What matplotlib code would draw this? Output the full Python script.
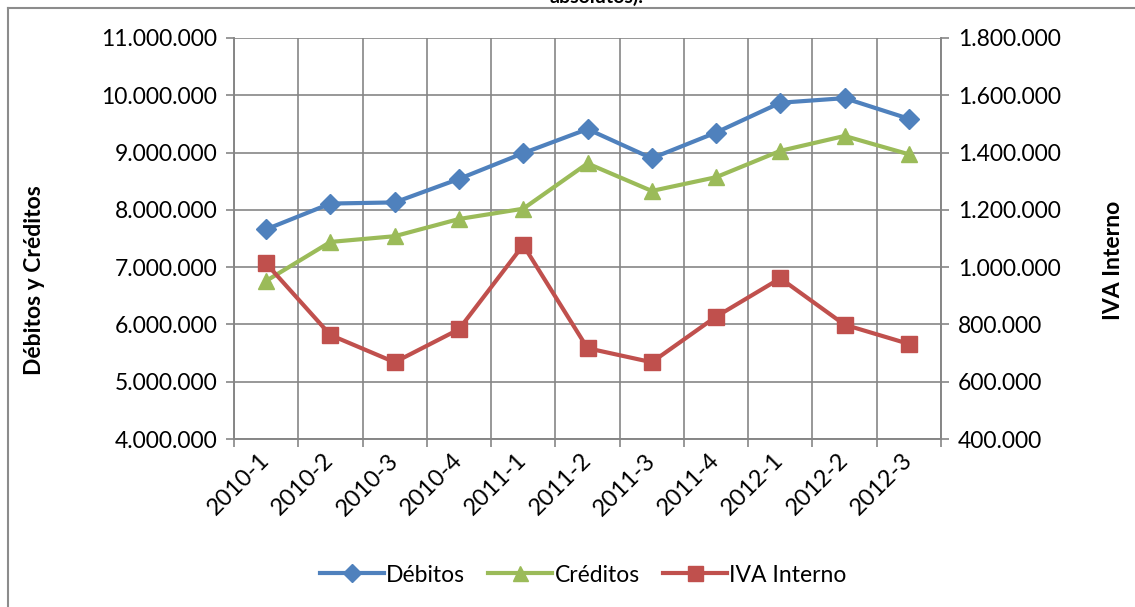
import matplotlib
matplotlib.use("Agg")
import matplotlib.pyplot as plt
from matplotlib.lines import Line2D
from matplotlib.ticker import FuncFormatter, FixedLocator

plt.rcParams['font.family'] = ['Lato', 'DejaVu Sans']

categories = ["2010-1", "2010-2", "2010-3", "2010-4", "2011-1", "2011-2",
              "2011-3", "2011-4", "2012-1", "2012-2", "2012-3"]
debitos = [7660000, 8110000, 8130000, 8540000, 8990000, 9410000,
           8900000, 9350000, 9870000, 9950000, 9590000]
creditos = [6760000, 7440000, 7540000, 7840000, 8020000, 8810000,
            8330000, 8570000, 9030000, 9290000, 8970000]
iva_interno = [1013000, 763000, 668000, 783000, 1077000, 717000,
               668000, 827000, 961000, 799000, 732000]
left_ticks = [4000000, 5000000, 6000000, 7000000, 8000000, 9000000, 10000000, 11000000]
right_ticks = [400000, 600000, 800000, 1000000, 1200000, 1400000, 1600000, 1800000]

C_DEB = "#4F81BD"
C_CRE = "#9BBB59"
C_IVA = "#C0504D"
GRID = "#868686"

def fmt(v, pos=None):
    return f"{int(round(v)):,}".replace(",", ".")

fig = plt.figure(figsize=(11.35, 6.07), dpi=100)
ax = fig.add_axes([234/1135, 1-439/607, (941-234)/1135, (439-38)/607])
ax2 = ax.twinx()

x = list(range(len(categories)))
l1, = ax.plot(x, debitos, color=C_DEB, lw=3, marker='D', ms=10, mec=C_DEB, mfc=C_DEB, zorder=3)
l2, = ax.plot(x, creditos, color=C_CRE, lw=3, marker='^', ms=12, mec=C_CRE, mfc=C_CRE, zorder=3)
l3, = ax2.plot(x, iva_interno, color=C_IVA, lw=3, marker='s', ms=12, mec=C_IVA, mfc=C_IVA, zorder=3)

ax.set_xlim(-0.5, len(categories) - 0.5)
ax.set_ylim(left_ticks[0], left_ticks[-1])
ax2.set_ylim(right_ticks[0], right_ticks[-1])
ax.set_yticks(left_ticks)
ax2.set_yticks(right_ticks)
ax.yaxis.set_major_formatter(FuncFormatter(fmt))
ax2.yaxis.set_major_formatter(FuncFormatter(fmt))

ax.set_xticks(x)
ax.set_xticklabels(categories, rotation=45, ha='right', va='center', rotation_mode='anchor')
ax.xaxis.set_minor_locator(FixedLocator([i - 0.5 for i in range(len(categories) + 1)]))
ax.tick_params(axis='x', which='major', length=0, pad=13, labelsize=17)
ax.tick_params(axis='x', which='minor', length=6, width=1.2, color=GRID)
ax.tick_params(axis='y', length=6, width=1.2, color=GRID, labelsize=16.5, pad=6)
ax2.tick_params(axis='y', length=6, width=1.2, color=GRID, labelsize=16.5, pad=6)

ax.grid(True, which='major', axis='y', color=GRID, lw=1.2)
ax.grid(True, which='minor', axis='x', color=GRID, lw=1.2)
ax.set_axisbelow(True)

for a in (ax, ax2):
    for s in a.spines.values():
        s.set_color(GRID)
        s.set_linewidth(1.2)
    a.spines['top'].set_visible(False)

fig.text(35/1135, 1-280/607, "Débitos y Créditos", rotation=90, fontsize=16.5,
         fontweight='bold', ha='center', va='center')
fig.text(1113/1135, 1-260/607, "IVA Interno", rotation=90, fontsize=16.5,
         fontweight='bold', ha='center', va='center')

fig.legend([l1, l2, l3], ["Débitos", "Créditos", "IVA Interno"], loc='center',
           bbox_to_anchor=(583/1135, 1-575/607), ncol=3, frameon=False,
           fontsize=16.5, handlelength=2.8, handletextpad=0.1, columnspacing=1.0,
           markerscale=0.9)

# partial title at top (cut off by the image edge, as in the reference) and chart frame
fig.text(597/1135, 1-2.5/607, "absolutos).", fontsize=14, fontweight='bold',
         ha='center', va='baseline')
fig.add_artist(Line2D([8/1135, 1], [1-8/607, 1-8/607], transform=fig.transFigure,
                      color="#8c8c8c", lw=1.5))
fig.add_artist(Line2D([8/1135, 8/1135], [0, 1-8/607], transform=fig.transFigure,
                      color="#8c8c8c", lw=1.5))

fig.savefig("out.png", dpi=100)
